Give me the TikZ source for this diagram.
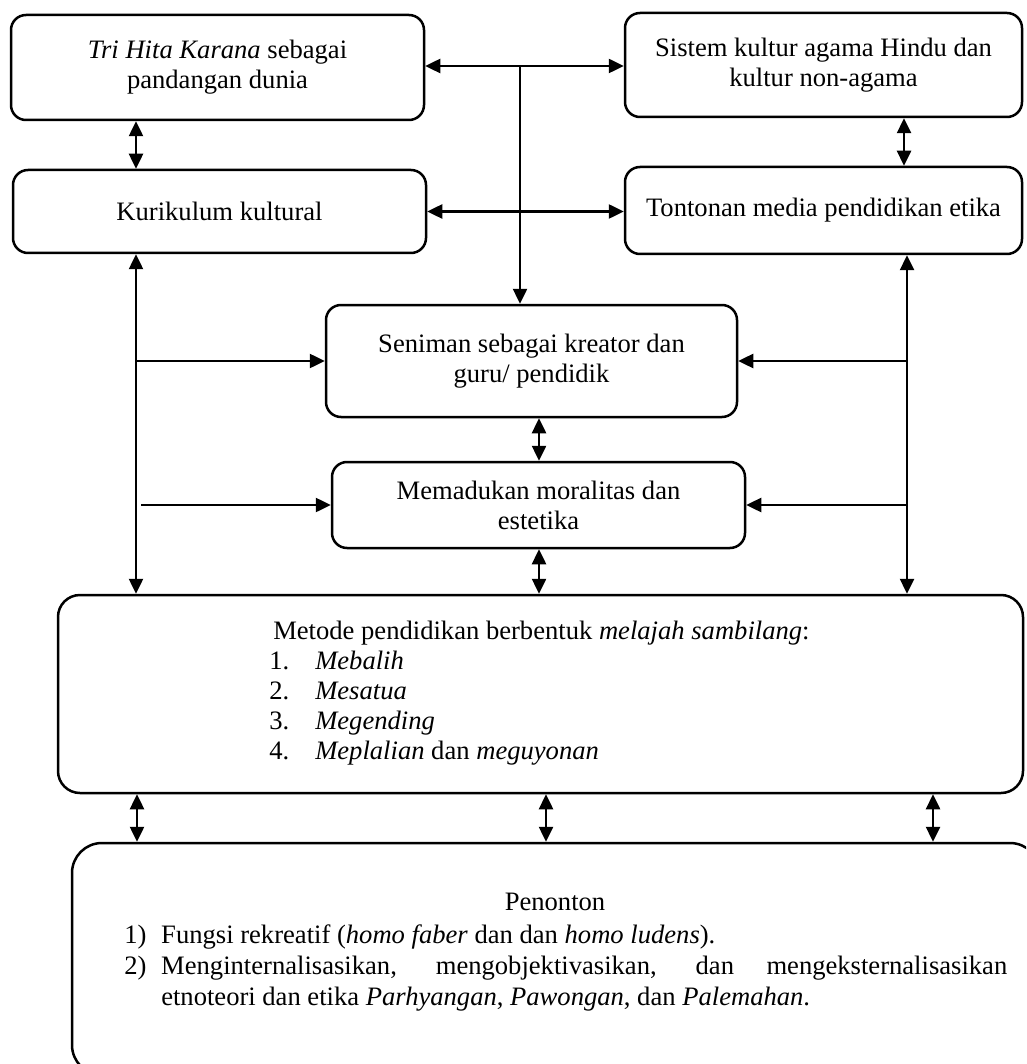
\documentclass[tikz,border=0pt]{standalone}
\usepackage{fontspec}
\setmainfont{Liberation Serif}
\usetikzlibrary{arrows.meta}
\begin{document}
\begin{tikzpicture}[x=1pt,y=-1pt,
  >={Triangle[length=15pt,width=14pt]},
  line width=2.5pt,
  box/.style={draw,rounded corners=15pt,align=center,inner sep=0pt,
     font=\fontsize{26.6}{30}\selectfont},
  conn/.style={line width=2.5pt}]
\useasboundingbox (0,0) rectangle (1026,1064);
\clip (0,0) rectangle (1026,1064);
\node[box,minimum width=413pt,minimum height=105pt] (b1) at (217.5,67.5)
  {\textit{Tri Hita Karana} sebagai\\pandangan dunia};
\node[box,minimum width=413pt,minimum height=83pt] (b2) at (219.5,211.5)
  {Kurikulum kultural};
\node[box,minimum width=397pt,minimum height=104pt] (b3) at (823.5,65)
  {Sistem kultur agama Hindu dan\\kultur non-agama};
\node[box,minimum width=397pt,minimum height=87pt] (b4) at (823.5,210.5)
  {Tontonan media pendidikan etika};
\node[box,minimum width=411pt,minimum height=112pt] (b5) at (531.5,361)
  {Seniman sebagai kreator dan\\guru/ pendidik};
\node[box,minimum width=413pt,minimum height=86pt] (b6) at (538.5,505)
  {Memadukan moralitas dan\\estetika};
\node[box,rounded corners=22pt,minimum width=965pt,minimum height=198pt] (b7) at (540.5,694) {};
\node[box,rounded corners=30pt,minimum width=968pt,minimum height=232pt] (b8) at (556,959) {};
% text of b7
\node[anchor=north west,inner sep=0pt,font=\fontsize{26.6}{30}\selectfont] (t7) at (268,617)
  {\begin{tabular}{@{}p{46pt}@{}l@{}}
   \multicolumn{2}{@{\hspace{4pt}}l@{}}{Metode pendidikan berbentuk \textit{melajah sambilang}:}\\
   1. & \textit{Mebalih}\\
   2. & \textit{Mesatua}\\
   3. & \textit{Megending}\\
   4. & \textit{Meplalian} dan \textit{meguyonan}
   \end{tabular}};
% text of b8
\node[inner sep=0pt,font=\fontsize{26.6}{31}\selectfont] (t8a) at (555,902) {Penonton};
\node[anchor=north west,inner sep=0pt,font=\fontsize{26.6}{31}\selectfont] (t8b) at (123,921)
  {\begin{tabular}{@{}p{37pt}@{}p{846pt}@{}}
   1) & Fungsi rekreatif (\textit{homo faber} dan dan \textit{homo ludens}).\\
   2) & Menginternalisasikan, mengobjektivasikan, dan mengeksternalisasikan\linebreak
        etnoteori dan etika \textit{Parhyangan}, \textit{Pawongan}, dan \textit{Palemahan}.
   \end{tabular}};
% column coordinates
\coordinate (j1) at (520,66);
\coordinate (cL) at (136,0);
\coordinate (cLb) at (141,0);
\coordinate (cR0) at (904,0);
\coordinate (cR) at (907,0);
\coordinate (cM) at (539,0);
\coordinate (d1) at (137,0);
\coordinate (d2) at (546,0);
\coordinate (d3) at (933,0);
% connectors
\draw[conn,<->] (b1.east |- j1) -- (b3.west |- j1);
\draw[conn,->] (j1) -- (b5.north -| j1);
\draw[conn,<->] (b2.east) -- (b4.west |- b2.east);
\draw[conn,<->] (b1.south -| cL) -- (b2.north -| cL);
\draw[conn,<->] (b3.south -| cR0) -- (b4.north -| cR0);
\draw[conn,<->] (b2.south -| cL) -- (b7.north -| cL);
\draw[conn,<->] (b4.south -| cR) -- (b7.north -| cR);
\draw[conn,->] (cL |- b5.west) -- (b5.west);
\draw[conn,->] (cLb |- b6.west) -- (b6.west);
\draw[conn,->] (cR |- b5.east) -- (b5.east);
\draw[conn,->] (cR |- b6.east) -- (b6.east);
\draw[conn,<->] (b5.south -| cM) -- (b6.north -| cM);
\draw[conn,<->] (b6.south -| cM) -- (b7.north -| cM);
\draw[conn,<->] (b7.south -| d1) -- (b8.north -| d1);
\draw[conn,<->] (b7.south -| d2) -- (b8.north -| d2);
\draw[conn,<->] (b7.south -| d3) -- (b8.north -| d3);
\end{tikzpicture}
\end{document}
